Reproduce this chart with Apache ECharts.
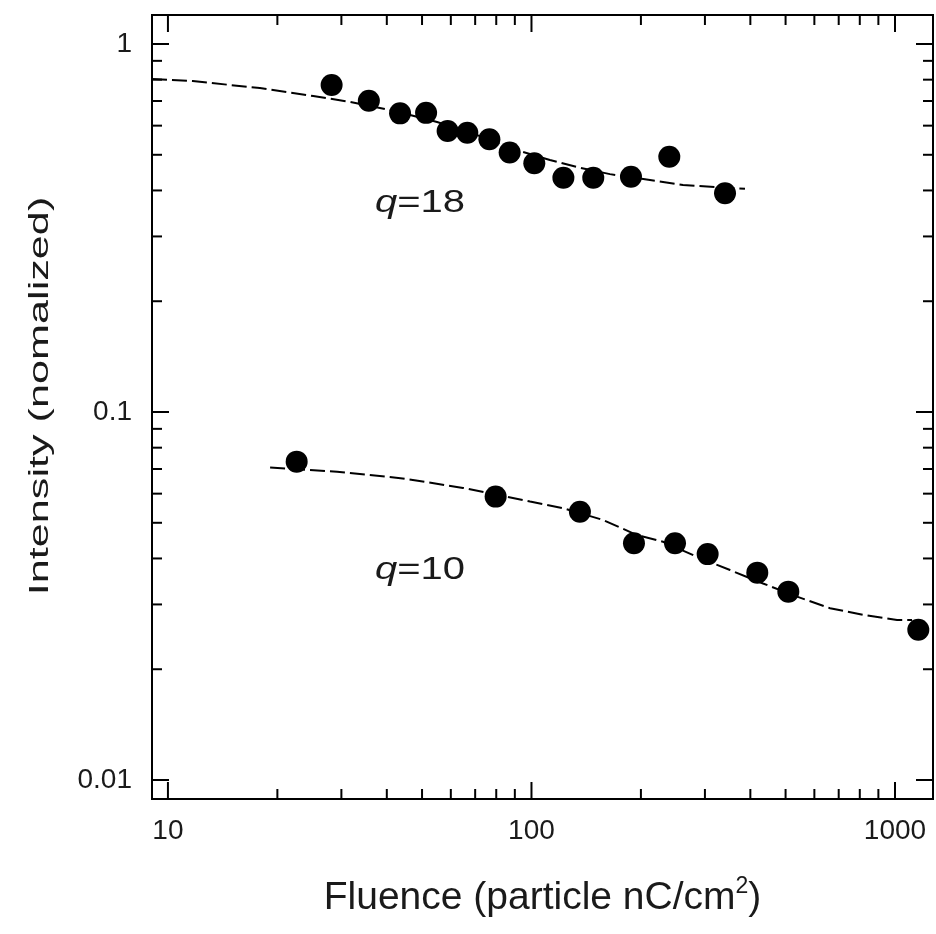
<!DOCTYPE html>
<html>
<head>
<meta charset="utf-8">
<script src="https://cdn.jsdelivr.net/npm/echarts@6/dist/echarts.min.js"></script>
<style>
html, body { margin: 0; padding: 0; background: #fff; }
#chart { width: 936px; height: 934px; }
</style>
</head>
<body>
<div id="chart"></div>
<script>
// ---- data ----
var q18Fluence = [28.2, 35.7, 43.5, 51.3, 58.8, 66.6, 76.6, 87.1, 101.8, 122.4, 147.9, 187.8, 239.4, 340.7];
var q18Intensity = [0.774, 0.701, 0.648, 0.650, 0.580, 0.574, 0.551, 0.507, 0.474, 0.433, 0.433, 0.436, 0.494, 0.393];
var q18FitFluence = [9.04, 11.7, 17.9, 25.1, 31.7, 40.8, 55.0, 72.2, 91.2, 112.4, 133.4, 164.4, 211.8, 261.1, 386.6];
var q18FitIntensity = [0.803, 0.793, 0.759, 0.722, 0.696, 0.662, 0.614, 0.562, 0.515, 0.484, 0.463, 0.443, 0.427, 0.414, 0.404];

var q10Fluence = [22.6, 79.7, 135.9, 191.4, 248.2, 305.2, 418.0, 508.8, 1159];
var q10Intensity = [0.0733, 0.0589, 0.0536, 0.0440, 0.0440, 0.0411, 0.0366, 0.0325, 0.0256];
var q10FitFluence = [19.1, 29.2, 44.2, 64.8, 99.1, 122.1, 157.3, 195.1, 230.1, 285.3, 351.7, 433.5, 537.6, 662.6, 816.6, 1013, 1114];
var q10FitIntensity = [0.0707, 0.0688, 0.0660, 0.0622, 0.0571, 0.0548, 0.0509, 0.0463, 0.0444, 0.0404, 0.0372, 0.0342, 0.0315, 0.0293, 0.0281, 0.0272, 0.0272];

var xMajorTicks = [10, 100, 1000];
var xTickLabels = ['10', '100', '1000'];
var xMinorTicks = [20, 30, 40, 50, 60, 70, 80, 90, 200, 300, 400, 500, 600, 700, 800, 900];
var yMajorTicks = [0.01, 0.1, 1];
var yTickLabels = ['0.01', '0.1', '1'];
var yMinorTicks = [0.02, 0.03, 0.04, 0.05, 0.06, 0.07, 0.08, 0.09, 0.2, 0.3, 0.4, 0.5, 0.6, 0.7, 0.8, 0.9];

var FONT = '"Liberation Sans", Arial, Helvetica, sans-serif';
var TXT = '#1a1a1a';

function zip(xs, ys) {
    return xs.map(function (x, i) { return [x, ys[i]]; });
}

function tickData(majors, minors, isX) {
    var out = [];
    majors.forEach(function (v) { out.push(isX ? [v, 0.1, 1] : [10, v, 1]); });
    minors.forEach(function (v) { out.push(isX ? [v, 0.1, 0] : [10, v, 0]); });
    return out;
}

function renderXTick(params, api) {
    var cs = params.coordSys;
    var v = api.value(0);
    var major = api.value(2);
    var px = api.coord([v, 0.1])[0];
    var len = major ? 17 : 10;
    var bottom = cs.y + cs.height, top = cs.y;
    var st = { stroke: '#000', lineWidth: 2 };
    var children = [
        { type: 'line', shape: { x1: px, y1: bottom, x2: px, y2: bottom - len }, style: st },
        { type: 'line', shape: { x1: px, y1: top, x2: px, y2: top + len }, style: st }
    ];
    if (major) {
        children.push({
            type: 'text', x: px, y: bottom + 32,
            style: {
                text: xTickLabels[xMajorTicks.indexOf(v)], fill: TXT,
                fontSize: 28, fontFamily: FONT,
                align: 'center', verticalAlign: 'middle',
                textAlign: 'center', textVerticalAlign: 'middle'
            }
        });
    }
    return { type: 'group', children: children };
}

function renderYTick(params, api) {
    var cs = params.coordSys;
    var v = api.value(1);
    var major = api.value(2);
    var py = api.coord([10, v])[1];
    var len = major ? 17 : 10;
    var left = cs.x, right = cs.x + cs.width;
    var st = { stroke: '#000', lineWidth: 2 };
    var children = [
        { type: 'line', shape: { x1: left, y1: py, x2: left + len, y2: py }, style: st },
        { type: 'line', shape: { x1: right, y1: py, x2: right - len, y2: py }, style: st }
    ];
    if (major) {
        children.push({
            type: 'text', x: left - 20, y: py,
            style: {
                text: yTickLabels[yMajorTicks.indexOf(v)], fill: TXT,
                fontSize: 28, fontFamily: FONT,
                align: 'right', verticalAlign: 'middle',
                textAlign: 'right', textVerticalAlign: 'middle'
            }
        });
    }
    return { type: 'group', children: children };
}

function qLabel(text, x, y) {
    return {
        type: 'text', x: x, y: y, scaleX: 1.25,
        style: {
            text: text, fill: TXT, fontSize: 32, fontFamily: FONT,
            verticalAlign: 'middle', textVerticalAlign: 'middle',
            rich: { i: { fontStyle: 'italic', fontSize: 32, fontFamily: FONT, fill: TXT } }
        }
    };
}

var chart = echarts.init(document.getElementById('chart'));

var fitLine = { color: '#000', width: 2, type: [15, 5] };
var dotStyle = { color: '#000', opacity: 1 };

var option = {
    animation: false,
    backgroundColor: '#fff',
    grid: {
        left: 152, right: 3, top: 15, bottom: 135,
        show: true, borderColor: '#000', borderWidth: 2
    },
    xAxis: {
        type: 'log', logBase: 10, min: 9.04, max: 1272,
        axisLine: { show: false }, axisTick: { show: false },
        axisLabel: { show: false }, splitLine: { show: false },
        name: 'Fluence (particle nC/cm{sup|2})',
        nameLocation: 'middle', nameGap: 76,
        nameTextStyle: {
            fontSize: 39, fontFamily: FONT, color: TXT,
            rich: { sup: { fontSize: 23, fontFamily: FONT, color: TXT, padding: [0, 0, 24, 0] } }
        }
    },
    yAxis: {
        type: 'log', logBase: 10, min: 0.00888, max: 1.199,
        axisLine: { show: false }, axisTick: { show: false },
        axisLabel: { show: false }, splitLine: { show: false }
    },
    graphic: [
        {
            type: 'text', x: 41, y: 396, rotation: Math.PI / 2, scaleX: 1.6,
            style: {
                text: 'Intensity (nomalized)', fill: TXT, fontSize: 27, fontFamily: FONT,
                align: 'center', verticalAlign: 'middle',
                textAlign: 'center', textVerticalAlign: 'middle'
            }
        },
        qLabel('{i|q}=18', 375, 203),
        qLabel('{i|q}=10', 375, 570)
    ],
    series: [
        {
            name: 'q18 fit', type: 'line', data: zip(q18FitFluence, q18FitIntensity),
            showSymbol: false, lineStyle: fitLine, silent: true, z: 2
        },
        {
            name: 'q10 fit', type: 'line', data: zip(q10FitFluence, q10FitIntensity),
            showSymbol: false, lineStyle: fitLine, silent: true, z: 2
        },
        {
            name: 'q=18', type: 'scatter', data: zip(q18Fluence, q18Intensity),
            symbol: 'circle', symbolSize: 22, itemStyle: dotStyle, z: 3
        },
        {
            name: 'q=10', type: 'scatter', data: zip(q10Fluence, q10Intensity),
            symbol: 'circle', symbolSize: 22, itemStyle: dotStyle, z: 3
        },
        {
            name: 'xticks', type: 'custom', renderItem: renderXTick,
            data: tickData(xMajorTicks, xMinorTicks, true),
            encode: { x: 0, y: 1 }, clip: false, silent: true, z: 4
        },
        {
            name: 'yticks', type: 'custom', renderItem: renderYTick,
            data: tickData(yMajorTicks, yMinorTicks, false),
            encode: { x: 0, y: 1 }, clip: false, silent: true, z: 4
        }
    ]
};

chart.setOption(option);
</script>
</body>
</html>
